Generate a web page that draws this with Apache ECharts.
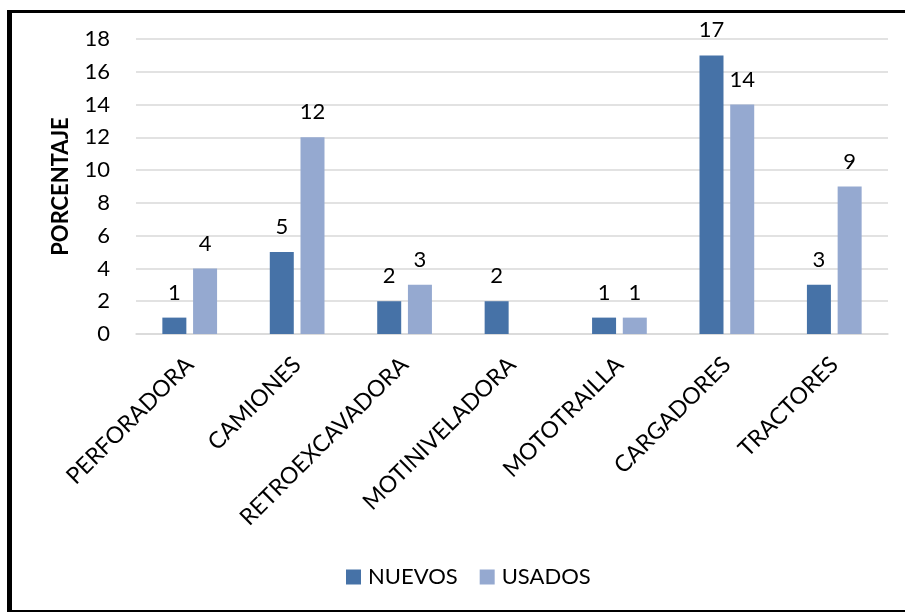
<!DOCTYPE html>
<html>
<head>
<meta charset="utf-8">
<script src="https://cdn.jsdelivr.net/npm/echarts@6/dist/echarts.min.js"></script>
<style>
  html, body { margin: 0; padding: 0; background: #fff; }
  #chart { width: 905px; height: 613px; }
</style>
</head>
<body>
<div id="chart"></div>
<script>
// Equipment counts by type, new vs. used
const categories = ['PERFORADORA', 'CAMIONES', 'RETROEXCAVADORA', 'MOTINIVELADORA', 'MOTOTRAILLA', 'CARGADORES', 'TRACTORES'];
const nuevos = [1, 5, 2, 2, 1, 17, 3];
const usados = [4, 12, 3, null, 1, 14, 9];
const yTicks = { min: 0, max: 18, interval: 2 };

const FONT = 'Lato';
const chart = echarts.init(document.getElementById('chart'), null, { renderer: 'canvas' });

const labelStyle = {
  show: true,
  position: 'top',
  distance: 14,
  color: '#000',
  fontFamily: FONT,
  fontSize: 22
};

chart.setOption({
  backgroundColor: '#fff',
  animation: false,
  textStyle: { fontFamily: FONT },
  grid: { left: 136, right: 17, top: 39, bottom: 279, containLabel: false },
  legend: {
    data: ['NUEVOS', 'USADOS'],
    left: 341,
    top: 561,
    icon: 'rect',
    itemWidth: 15,
    itemHeight: 15,
    itemGap: 22,
    textStyle: { fontFamily: FONT, fontSize: 22, color: '#000', padding: [0, 0, 0, 2] }
  },
  xAxis: {
    type: 'category',
    data: categories,
    axisLine: { show: true, lineStyle: { color: '#d9d9d9', width: 1.5 } },
    axisTick: { show: false },
    axisLabel: {
      rotate: 45,
      interval: 0,
      margin: 27,
      color: '#000',
      fontFamily: FONT,
      fontSize: 23
    }
  },
  yAxis: {
    type: 'value',
    min: yTicks.min,
    max: yTicks.max,
    interval: yTicks.interval,
    name: 'PORCENTAJE',
    nameLocation: 'middle',
    nameGap: 64,
    nameTextStyle: { fontFamily: FONT, fontSize: 22, fontWeight: 'bold', color: '#000' },
    axisLine: { show: false },
    axisTick: { show: false },
    axisLabel: { margin: 26, color: '#000', fontFamily: FONT, fontSize: 22 },
    splitLine: { lineStyle: { color: '#d9d9d9', width: 1.5 } }
  },
  series: [
    {
      name: 'NUEVOS',
      type: 'bar',
      data: nuevos,
      barWidth: 24,
      barGap: '28%',
      itemStyle: { color: '#4672a7' },
      label: labelStyle
    },
    {
      name: 'USADOS',
      type: 'bar',
      data: usados,
      barWidth: 24,
      itemStyle: { color: '#95a9d0' },
      label: labelStyle
    }
  ],
  graphic: [
    { type: 'rect', shape: { x: 7, y: 10, width: 5, height: 602 }, style: { fill: '#000' }, silent: true },
    { type: 'rect', shape: { x: 7, y: 10, width: 898, height: 3 }, style: { fill: '#000' }, silent: true },
    { type: 'rect', shape: { x: 7, y: 610, width: 898, height: 2 }, style: { fill: '#000' }, silent: true }
  ]
});
</script>
</body>
</html>
